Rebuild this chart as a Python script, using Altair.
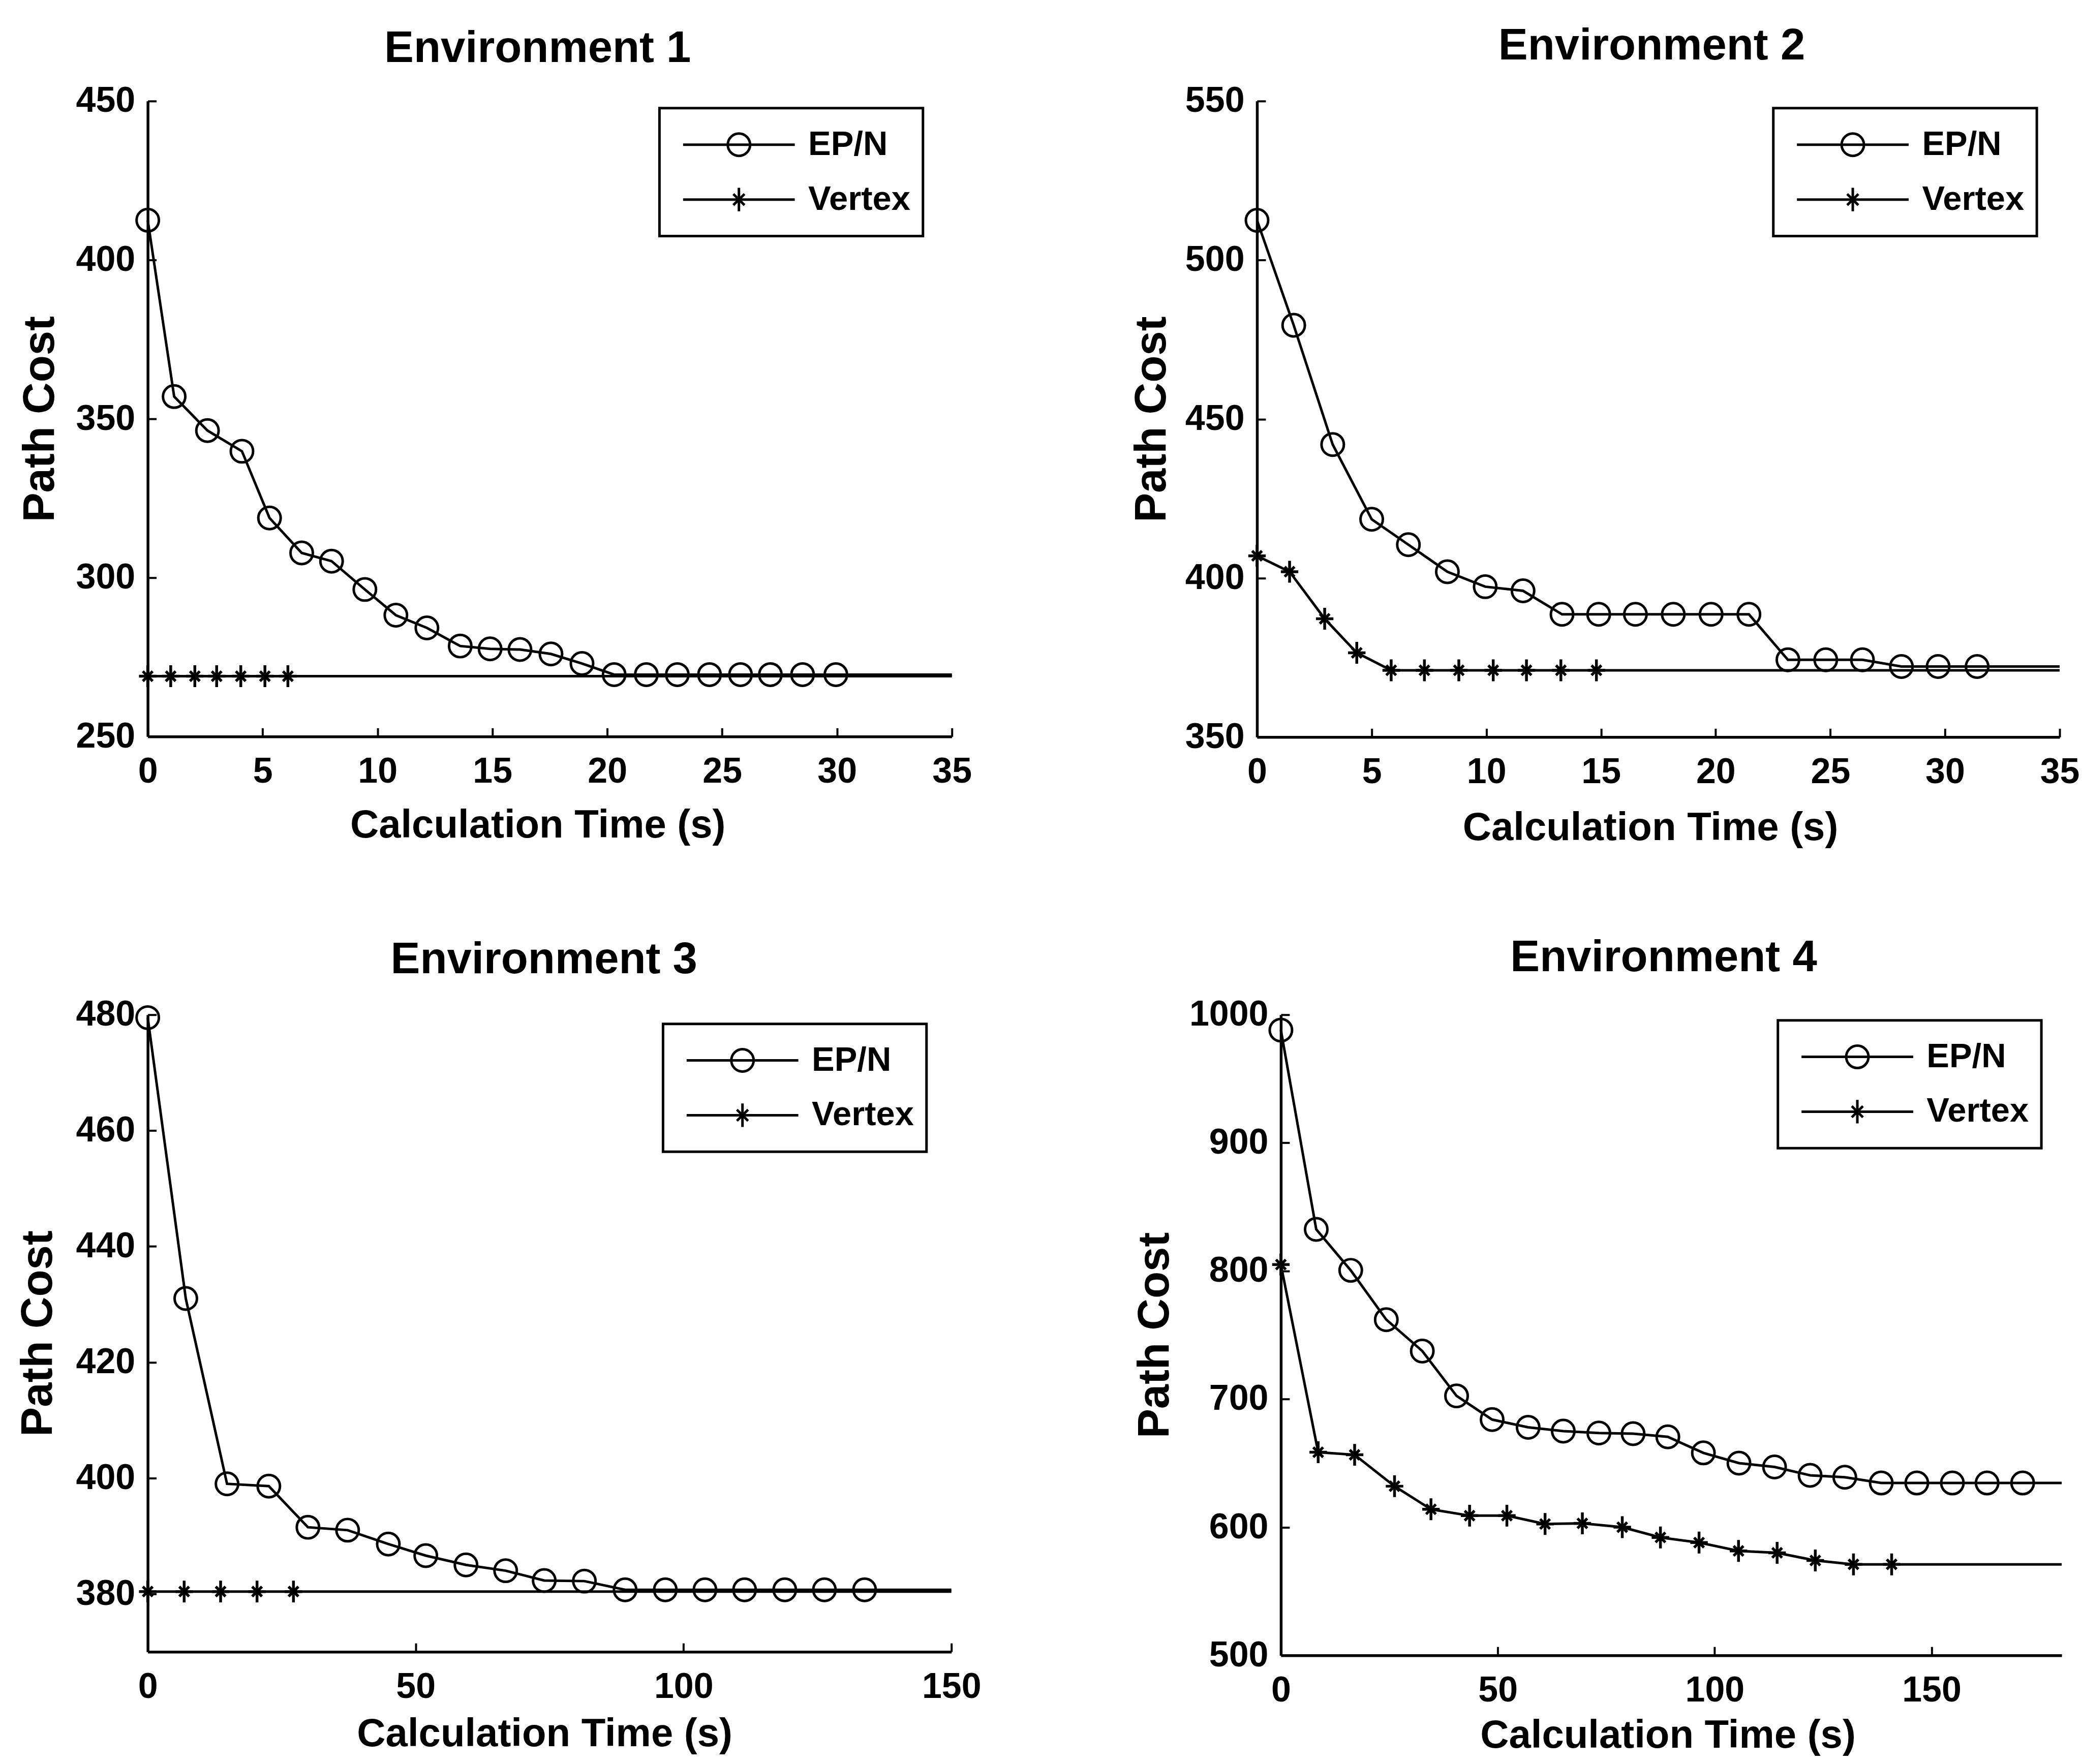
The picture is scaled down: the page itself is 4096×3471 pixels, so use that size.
import altair as alt
import pandas as pd

FONT = "Liberation Sans"

# ---------------- data ----------------
series_names = ["EP/N", "Vertex"]
titles = ["Environment 1", "Environment 2", "Environment 3", "Environment 4"]

# Environment 1
e1_ep_t = [0, 1.15, 2.6, 4.1, 5.3, 6.7, 8.0, 9.45, 10.8, 12.15, 13.6, 14.9, 16.2,
           17.55, 18.9, 20.3, 21.7, 23.05, 24.45, 25.8, 27.1, 28.5, 29.95]
e1_ep_c = [412.5, 357, 346.3, 339.8, 318.8, 307.8, 305.2, 296.3, 288.2, 284.2, 278.5,
           277.6, 277.4, 276, 273, 269.5, 269.5, 269.5, 269.5, 269.5, 269.5, 269.5, 269.5]
e1_vx_t = [0, 1.0, 2.05, 3.0, 4.05, 5.1, 6.1]
e1_vx_c = [269, 269, 269, 269, 269, 269, 269]

# Environment 2
e2_ep_t = [0, 1.6, 3.3, 5.0, 6.6, 8.3, 9.95, 11.6, 13.3, 14.9, 16.5, 18.15, 19.8,
           21.45, 23.15, 24.8, 26.4, 28.1, 29.7, 31.4]
e2_ep_c = [512.5, 479.5, 442, 418.5, 410.5, 402, 397.3, 396, 388.6, 388.6, 388.6,
           388.6, 388.6, 388.6, 374.3, 374.3, 374.3, 372.2, 372.2, 372.2]
e2_vx_t = [0, 1.42, 2.95, 4.35, 5.85, 7.3, 8.8, 10.3, 11.75, 13.25, 14.8]
e2_vx_c = [407, 402, 387.2, 376.5, 371, 371, 371, 371, 371, 371, 371]

# Environment 3
e3_ep_t = [0, 7.1, 14.8, 22.6, 29.9, 37.3, 44.9, 51.9, 59.4, 66.8, 74.0, 81.5, 89.1,
           96.6, 104.0, 111.4, 118.9, 126.3, 133.8]
e3_ep_c = [479.5, 431, 399, 398.6, 391.5, 391, 388.6, 386.6, 385, 384, 382.3, 382.2,
           380.7, 380.7, 380.7, 380.7, 380.7, 380.7, 380.7]
e3_vx_t = [0, 6.8, 13.6, 20.4, 27.2]
e3_vx_c = [380.4, 380.4, 380.4, 380.4, 380.4]

# Environment 4
e4_ep_t = [0, 8.15, 16.1, 24.3, 32.6, 40.5, 48.7, 57.0, 65.1, 73.3, 81.2, 89.2, 97.4,
           105.6, 113.8, 122.0, 130.0, 138.4, 146.6, 154.8, 162.8, 171.0]
e4_ep_c = [988, 832.5, 800.5, 762, 737.5, 702.5, 684, 678, 675, 673.5, 673, 670.5, 658,
           650, 647, 640.5, 639, 634.5, 634.5, 634.5, 634.5, 634.5]
e4_vx_t = [0, 8.6, 17.0, 26.2, 34.6, 43.5, 52.1, 60.9, 69.5, 78.7, 87.5, 96.4, 105.5,
           114.4, 123.2, 132.0, 140.8]
e4_vx_c = [805, 658.5, 656.5, 632, 614, 609, 609, 602.5, 603, 600, 592, 588, 581.5,
           580, 574, 571, 571]

# lines continue flat (no markers) to this time
line_end = [35, 35, 150, 180]

x_domains = [[0, 35], [0, 35], [0, 150], [0, 180]]
y_domains = [[250, 450], [350, 550], [370, 480], [500, 1000]]
x_ticks = [[0, 5, 10, 15, 20, 25, 30, 35], [0, 5, 10, 15, 20, 25, 30, 35],
           [0, 50, 100, 150], [0, 50, 100, 150]]
y_ticks = [[250, 300, 350, 400, 450], [350, 400, 450, 500, 550],
           [380, 400, 420, 440, 460, 480], [500, 600, 700, 800, 900, 1000]]

all_series = [
    (e1_ep_t, e1_ep_c, e1_vx_t, e1_vx_c),
    (e2_ep_t, e2_ep_c, e2_vx_t, e2_vx_c),
    (e3_ep_t, e3_ep_c, e3_vx_t, e3_vx_c),
    (e4_ep_t, e4_ep_c, e4_vx_t, e4_vx_c),
]

# ---------------- layout / style ----------------
W = [1584, 1581, 1583, 1538]
H = [1252, 1253, 1255, 1262]
TITLE_OFF = [-45, -40, -40, -36]
TITLE_DX = [-24, -13, -11, -15]
XTITLE_DX = [-24, -16, -10, -7]
XTITLE_PAD = [32, 36, 20, 16]
YTITLE_PAD = [26, 21, 30, 23]
LEG_X = [1008, 1017, 1015, 979]
LEG_Y = [14, 14, 18, 11]

STAR = "M0,-1L0,1M-0.8,0L0.8,0M-0.45,-0.45L0.45,0.45M-0.45,0.45L0.45,-0.45"
LEG_EP = "M-1,0L1,0M-0.2,0A0.2,0.2,0,1,1,0.2,0A0.2,0.2,0,1,1,-0.2,0"
LEG_VX = "M-1,0L1,0M0,-0.21L0,0.21M-0.17,0L0.17,0M-0.1,-0.1L0.1,0.1M-0.1,0.1L0.1,-0.1"


def panel(i):
    ep_t, ep_c, vx_t, vx_c = all_series[i]
    rows = []
    for t, c in zip(ep_t, ep_c):
        rows.append({"series": "EP/N", "t": t, "c": c, "marker": True})
    rows.append({"series": "EP/N", "t": line_end[i], "c": ep_c[-1], "marker": False})
    for t, c in zip(vx_t, vx_c):
        rows.append({"series": "Vertex", "t": t, "c": c, "marker": True})
    rows.append({"series": "Vertex", "t": line_end[i], "c": vx_c[-1], "marker": False})
    df = pd.DataFrame(rows)

    xs = alt.Scale(domain=x_domains[i], nice=False, zero=False)
    ys = alt.Scale(domain=y_domains[i], nice=False, zero=False)
    base = alt.Chart(df)

    line = base.mark_line(color="black", strokeWidth=5).encode(
        x=alt.X("t:Q", scale=xs, axis=alt.Axis(
            orient="bottom", values=x_ticks[i], format="d", title="Calculation Time (s)",
            ticks=False, tickSize=0, labelPadding=35, labelFontSize=70, labelFlush=False,
            labelFontWeight="bold", titleFontSize=78, titleFontWeight="bold",
            titlePadding=XTITLE_PAD[i], titleX=W[i] / 2 + XTITLE_DX[i],
            domainWidth=5.5, grid=False)),
        y=alt.Y("c:Q", scale=ys, axis=alt.Axis(
            orient="left", values=y_ticks[i], format="d", title="Path Cost",
            ticks=False, tickSize=0, labelPadding=25, labelFontSize=70,
            labelFontWeight="bold", titleFontSize=87, titleFontWeight="bold",
            titlePadding=YTITLE_PAD[i], domainWidth=5.5, grid=False)),
        detail="series:N",
    )

    ep = base.transform_filter("datum.marker && datum.series == 'EP/N'").mark_point(
        shape="circle", filled=False, size=1936, strokeWidth=5, color="black", opacity=1
    ).encode(
        x=alt.X("t:Q", scale=xs, axis=None),
        y=alt.Y("c:Q", scale=ys, axis=None),
    )

    vx = base.transform_filter("datum.marker && datum.series == 'Vertex'").mark_point(
        shape=STAR, filled=False, size=1849, strokeWidth=5.5, color="black", opacity=1
    ).encode(
        x=alt.X("t:Q", scale=xs, axis=None),
        y=alt.Y("c:Q", scale=ys, axis=None),
    )

    leg = base.transform_filter("false").mark_point(
        filled=False, strokeWidth=5, color="black", opacity=1
    ).encode(
        x=alt.X("t:Q", scale=xs, axis=alt.Axis(
            orient="top", offset=-H[i], values=x_ticks[i], labels=False, domain=False,
            ticks=True, tickSize=17, tickWidth=4, tickColor="black", title=None, grid=False)),
        y=alt.Y("c:Q", scale=ys, axis=alt.Axis(
            orient="right", offset=-W[i], values=y_ticks[i], labels=False, domain=False,
            ticks=True, tickSize=17, tickWidth=4, tickColor="black", title=None, grid=False)),
        shape=alt.Shape("series:N",
                        scale=alt.Scale(domain=series_names, range=[LEG_EP, LEG_VX]),
                        legend=alt.Legend(
                            orient="none", legendX=LEG_X[i], legendY=LEG_Y[i], title=None,
                            symbolSize=48400, symbolStrokeWidth=5, symbolStrokeColor="black",
                            symbolFillColor="transparent", symbolOpacity=1,
                            labelFontSize=67, labelFont=FONT, labelFontWeight="bold",
                            labelColor="black", labelLimit=600,
                            labelOffset=24, padding=24, symbolOffset=20, rowPadding=12,
                            clipHeight=96, strokeColor="black", fillColor="white")),
    )

    return alt.layer(line, ep, vx, leg).resolve_axis(
        x="independent", y="independent"
    ).properties(
        width=W[i], height=H[i],
        title=alt.TitleParams(text=titles[i], fontSize=87, font=FONT, fontWeight="bold",
                              color="black", anchor="middle", frame="group",
                              baseline="alphabetic", offset=TITLE_OFF[i], dx=TITLE_DX[i]),
    )


row1 = alt.hconcat(panel(0), panel(1), spacing=601, bounds="flush").resolve_scale(
    x="independent", y="independent", shape="independent").resolve_legend(shape="independent")
row2 = alt.hconcat(panel(2), panel(3), spacing=649, bounds="flush").resolve_scale(
    x="independent", y="independent", shape="independent").resolve_legend(shape="independent")

chart = alt.vconcat(row1, row2, spacing=173).resolve_scale(
    x="independent", y="independent", shape="independent"
).resolve_legend(shape="independent").properties(
    padding={"left": 31, "top": 45, "right": 5, "bottom": 5},
    background="white",
).configure_view(strokeWidth=0).configure_axis(
    labelFont=FONT, titleFont=FONT, labelColor="black", titleColor="black",
    domainColor="black",
).configure_legend(strokeWidth=5)

chart.save("out.html", embed_options={"renderer": "svg", "actions": False})
